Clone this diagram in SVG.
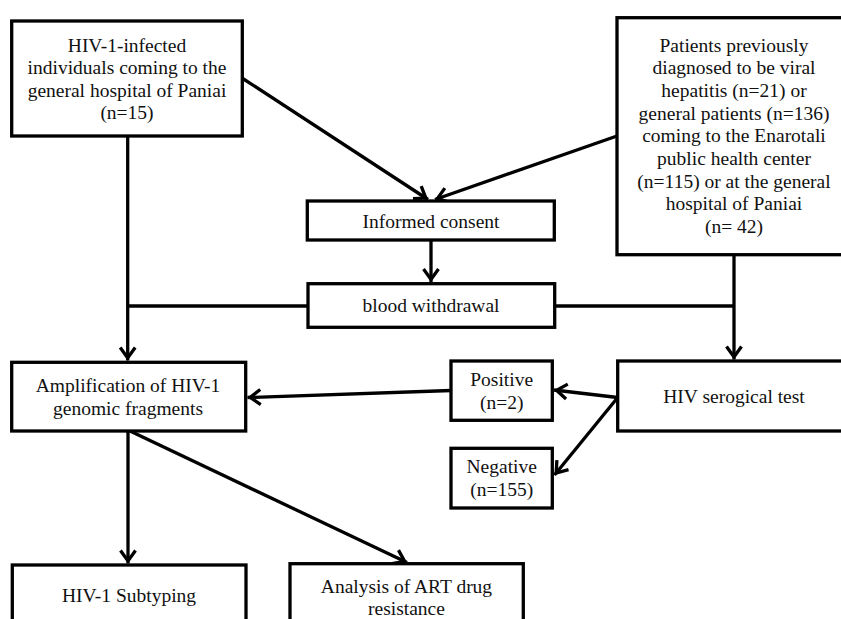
<svg xmlns="http://www.w3.org/2000/svg" width="841" height="619" viewBox="0 0 841 619">
<style>
.box{fill:#fff;stroke:#000;stroke-width:3.3}
.t{font-family:'Liberation Serif','Tinos','Times New Roman','DejaVu Serif',serif;font-size:19.5px;fill:#111;text-anchor:middle}
.c{fill:none;stroke:#000;stroke-width:3.3}
.a{marker-end:url(#arr)}
</style>
<defs>
<marker id="arr" markerUnits="userSpaceOnUse" viewBox="-16 -10 18 20" refX="0" refY="0" markerWidth="18" markerHeight="20" orient="auto">
<path d="M-13,-7.5 L-2.6,0 L-13,7.5" fill="none" stroke="#000" stroke-width="3.3" stroke-linejoin="miter" stroke-miterlimit="10"/>
</marker>
</defs>
<rect width="841" height="619" fill="#fff"/>
<g id="connectors">
<line class="c a" x1="242" y1="78" x2="428" y2="199.5"/>
<line class="c a" x1="617" y1="136" x2="435" y2="199.5"/>
<line class="c a" x1="431" y1="240" x2="431" y2="282"/>
<line class="c a" x1="127.7" y1="136" x2="127.7" y2="360.5"/>
<line class="c" x1="308" y1="306" x2="127.7" y2="306"/>
<line class="c a" x1="734" y1="254.7" x2="734" y2="359.5"/>
<line class="c" x1="554.7" y1="306" x2="734" y2="306"/>
<line class="c a" x1="617.7" y1="397.5" x2="554" y2="390"/>
<line class="c a" x1="617.7" y1="397.5" x2="554.5" y2="475"/>
<line class="c a" x1="451" y1="390.5" x2="247.5" y2="397.5"/>
<line class="c a" x1="128" y1="431" x2="128" y2="563.5"/>
<line class="c a" x1="130" y1="431" x2="407" y2="562.5"/>
</g>
<g id="n-hiv-infected">
<rect class="box" x="11.7" y="21" width="230.6" height="115"/>
<text class="t" x="127" y="51.7">HIV-1-infected</text>
<text class="t" x="127" y="74.2">individuals coming to the</text>
<text class="t" x="127" y="96.8">general hospital of Paniai</text>
<text class="t" x="127" y="119.4">(n=15)</text>
</g>
<g id="n-patients">
<rect class="box" x="617" y="17.7" width="234" height="237"/>
<text class="t" x="734" y="51.7">Patients previously</text>
<text class="t" x="734" y="74.4">diagnosed to be viral</text>
<text class="t" x="734" y="97">hepatitis (n=21) or</text>
<text class="t" x="734" y="119.7">general patients (n=136)</text>
<text class="t" x="734" y="142.4">coming to the Enarotali</text>
<text class="t" x="734" y="165">public health center</text>
<text class="t" x="734" y="187.7">(n=115) or at the general</text>
<text class="t" x="734" y="210.4">hospital of Paniai</text>
<text class="t" x="734" y="233">(n= 42)</text>
</g>
<g id="n-consent">
<rect class="box" x="307.3" y="201" width="247" height="39"/>
<text class="t" x="431" y="228">Informed consent</text>
</g>
<g id="n-blood">
<rect class="box" x="308" y="283.7" width="246.7" height="43.6"/>
<text class="t" x="431" y="312">blood withdrawal</text>
</g>
<g id="n-amplification">
<rect class="box" x="11.7" y="362.3" width="234" height="68.7"/>
<text class="t" x="128" y="392.3">Amplification of HIV-1</text>
<text class="t" x="128" y="415">genomic fragments</text>
</g>
<g id="n-serological">
<rect class="box" x="617.7" y="361" width="234" height="70"/>
<text class="t" x="734" y="402.7">HIV serogical test</text>
</g>
<g id="n-positive">
<rect class="box" x="451" y="361" width="101.3" height="59.3"/>
<text class="t" x="501.7" y="385.7">Positive</text>
<text class="t" x="501.7" y="409">(n=2)</text>
</g>
<g id="n-negative">
<rect class="box" x="451" y="448.3" width="101.3" height="59.7"/>
<text class="t" x="501.7" y="473.3">Negative</text>
<text class="t" x="501.7" y="496">(n=155)</text>
</g>
<g id="n-subtyping">
<rect class="box" x="12.3" y="565" width="233.7" height="70"/>
<text class="t" x="129" y="601.7">HIV-1 Subtyping</text>
</g>
<g id="n-analysis">
<rect class="box" x="290" y="563.7" width="233.3" height="70"/>
<text class="t" x="406.5" y="593.3">Analysis of ART drug</text>
<text class="t" x="406.5" y="615">resistance</text>
</g>
</svg>
